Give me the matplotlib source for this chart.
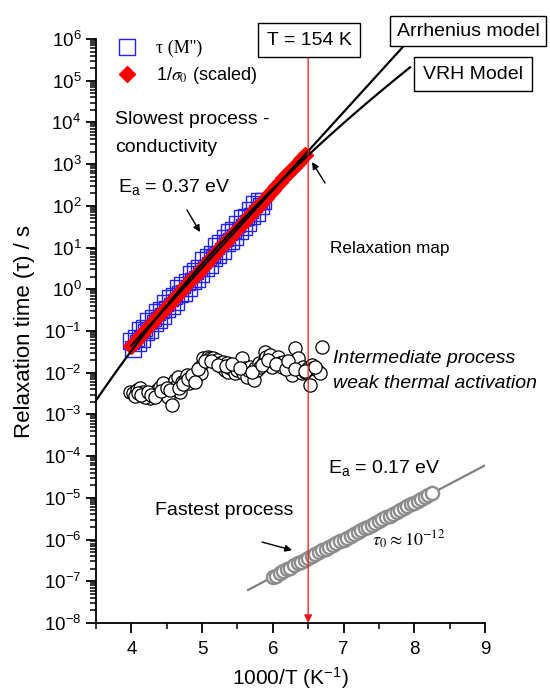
import numpy as np
import matplotlib
matplotlib.use("Agg")
import matplotlib.pyplot as plt
from matplotlib.ticker import FixedLocator, LogLocator, NullFormatter, LogFormatterMathtext

plt.rcParams['font.family'] = ['Liberation Sans', 'DejaVu Sans']
plt.rcParams['mathtext.fontset'] = 'custom'
plt.rcParams['mathtext.rm'] = 'Liberation Sans'
plt.rcParams['mathtext.it'] = 'Liberation Sans:italic'
plt.rcParams['mathtext.bf'] = 'Liberation Sans:bold'

# ---------------- data ----------------
# tau(M'') - slowest process (blue squares)
m_x = [4.00, 4.03, 4.06, 4.09, 4.12, 4.15, 4.18, 4.21, 4.24, 4.27, 4.30, 4.33,
       4.36, 4.39, 4.42, 4.45, 4.48, 4.51, 4.54, 4.57, 4.60, 4.63, 4.66, 4.69,
       4.72, 4.75, 4.78, 4.81, 4.84, 4.87, 4.90, 4.93, 4.96, 4.99, 5.02, 5.05,
       5.08, 5.11, 5.14, 5.17, 5.20, 5.23, 5.26, 5.29, 5.32, 5.35, 5.38, 5.41,
       5.44, 5.47, 5.50, 5.53, 5.56, 5.59, 5.62, 5.65, 5.68, 5.71, 5.74, 5.77,
       5.80, 5.83, 5.86]
m_tau = [0.0589, 0.0368, 0.0664, 0.0522, 0.103, 0.0646, 0.116, 0.0959, 0.173,
         0.103, 0.204, 0.153, 0.289, 0.181, 0.311, 0.223, 0.462, 0.332, 0.627,
         0.392, 0.706, 0.484, 1.05, 0.753, 1.30, 0.811, 1.53, 1.10, 2.28, 1.56,
         2.81, 1.76, 3.16, 2.38, 4.92, 3.22, 6.08, 3.80, 7.18, 5.65, 10.7, 6.67,
         12.6, 8.24, 17.1, 12.8, 23.1, 14.5, 26.1, 17.9, 37.0, 25.3, 50.0, 31.3,
         53.8, 38.6, 80.0, 57.4, 108, 67.8, 128, 101, 132]

# 1/sigma_0 (scaled) - red diamonds
s_x = [4.00, 4.05, 4.10, 4.15, 4.20, 4.25, 4.30, 4.35, 4.40, 4.45, 4.50, 4.55,
       4.60, 4.65, 4.70, 4.75, 4.80, 4.85, 4.90, 4.95, 5.00, 5.05, 5.10, 5.15,
       5.20, 5.25, 5.30, 5.35, 5.40, 5.45, 5.50, 5.55, 5.60, 5.65, 5.70, 5.75,
       5.80, 5.85, 5.90, 5.95, 6.00, 6.05, 6.10, 6.15, 6.20, 6.25, 6.30, 6.35,
       6.40, 6.45]
s_tau = [0.0447, 0.0554, 0.0686, 0.0851, 0.105, 0.131, 0.162, 0.201, 0.249,
         0.309, 0.382, 0.474, 0.588, 0.728, 0.902, 1.12, 1.39, 1.72, 2.13, 2.64,
         3.27, 4.06, 5.03, 6.24, 7.73, 9.58, 11.9, 14.7, 18.2, 22.6, 28.0, 34.7,
         43.1, 53.4, 66.2, 82.0, 102, 126, 156, 194, 240, 298, 369, 457, 567,
         702, 871, 1080, 1340, 1660]

# Intermediate process (open black circles)
i_x = [3.98, 4.03, 4.08, 4.12, 4.17, 4.22, 4.26, 4.19, 4.31, 4.36, 4.40, 4.45,
       4.48, 4.52, 4.57, 4.59, 4.62, 4.64, 4.66, 4.69, 4.71, 4.76, 4.78, 4.81,
       4.83, 4.88, 4.92, 4.95, 4.97, 4.99, 5.02, 5.07, 5.09, 5.11, 5.16, 5.18,
       5.21, 5.25, 5.28, 5.30, 5.32, 5.35, 5.37, 5.40, 5.44, 5.47, 5.49, 5.51,
       5.56, 5.58, 5.61, 5.63, 5.65, 5.68, 5.73, 5.75, 5.77, 5.80, 5.82, 5.87,
       5.89, 5.91, 5.96, 5.985, 6.01, 6.06, 6.08, 6.10, 6.13, 6.15, 6.20, 6.24,
       6.27, 6.29, 6.315, 6.34, 6.36, 6.39, 6.41, 6.43, 6.46, 6.50, 6.53, 6.55,
       6.57, 6.62, 6.67, 6.69,
       4.05, 4.10, 4.14, 4.24, 4.28, 4.34, 4.42, 4.50, 4.55, 4.68, 4.73, 4.80,
       4.86, 4.90, 4.94, 5.04, 5.13, 5.23, 5.34, 5.42, 5.53, 5.70, 5.85, 5.93,
       6.04, 6.18, 6.22, 6.32, 6.45, 6.60]
i_tau = [3.49e-3, 3.18e-3, 3.83e-3, 4.2e-3, 3.49e-3, 2.9e-3, 2.42e-3, 2.65e-3,
         3.18e-3, 3.83e-3, 4.6e-3, 5.53e-3, 3.18e-3, 2.65e-3, 1.67e-3, 4.2e-3,
         6.65e-3, 5.05e-3, 8.0e-3, 3.49e-3, 6.07e-3, 6.65e-3, 8.77e-3, 5.53e-3,
         7.3e-3, 6.65e-3, 8.0e-3, 1.05e-2, 1.39e-2, 9.6e-3, 2.2e-2, 2.01e-2,
         2.42e-2, 2.2e-2, 2.2e-2, 1.83e-2, 2.01e-2, 1.67e-2, 1.39e-2, 1.83e-2,
         1.16e-2, 1.67e-2, 1.05e-2, 1.27e-2, 1.39e-2, 9.6e-3, 1.16e-2, 1.52e-2,
         2.2e-2, 9.6e-3, 1.27e-2, 8.0e-3, 1.16e-2, 1.39e-2, 6.65e-3, 1.27e-2,
         1.16e-2, 1.67e-2, 1.39e-2, 1.83e-2, 3.18e-2, 2.42e-2, 2.65e-2, 1.39e-2,
         1.83e-2, 2.01e-2, 2.42e-2, 1.67e-2, 1.39e-2, 1.83e-2, 1.52e-2, 1.16e-2,
         8.77e-3, 1.39e-2, 3.82e-2, 1.83e-2, 2.2e-2, 1.16e-2, 9.6e-3, 1.39e-2,
         1.05e-2, 1.27e-2, 5.05e-3, 1.52e-2, 1.27e-2, 1.16e-2, 9.6e-3, 4.19e-2,
         2.8e-3, 3.3e-3, 3.0e-3, 3.4e-3, 2.9e-3, 2.6e-3, 3.6e-3, 4.4e-3, 3.8e-3,
         4.4e-3, 5.3e-3, 7.2e-3, 8.6e-3, 6.0e-3, 1.25e-2, 1.9e-2, 1.9e-2,
         1.55e-2, 1.45e-2, 1.6e-2, 1.3e-2, 1.05e-2, 1.5e-2, 2.0e-2, 1.6e-2,
         1.2e-2, 1.9e-2, 1.2e-2, 1.1e-2, 1.4e-2]

# Fastest process (grey open circles)
f_x = [6.00, 6.05, 6.10, 6.15, 6.20, 6.25, 6.30, 6.35, 6.40, 6.45, 6.50, 6.55,
       6.60, 6.65, 6.70, 6.75, 6.80, 6.85, 6.90, 6.95, 7.00, 7.05, 7.10, 7.15,
       7.20, 7.25, 7.30, 7.35, 7.40, 7.45, 7.50, 7.55, 7.60, 7.65, 7.70, 7.75,
       7.80, 7.85, 7.90, 7.95, 8.00, 8.05, 8.10, 8.15, 8.20, 8.25]
f_tau = [1.25e-7, 1.35e-7, 1.55e-7, 1.72e-7, 1.95e-7, 2.12e-7, 2.40e-7, 2.70e-7,
         2.95e-7, 3.30e-7, 3.62e-7, 4.05e-7, 4.50e-7, 5.05e-7, 5.50e-7, 6.10e-7,
         6.60e-7, 7.30e-7, 8.30e-7, 9.10e-7, 1.0e-6, 1.10e-6, 1.22e-6, 1.35e-6,
         1.50e-6, 1.66e-6, 1.85e-6, 2.05e-6, 2.25e-6, 2.50e-6, 2.78e-6, 3.05e-6,
         3.40e-6, 3.75e-6, 4.18e-6, 4.62e-6, 5.10e-6, 5.65e-6, 6.30e-6, 6.95e-6,
         7.70e-6, 8.55e-6, 9.50e-6, 1.05e-5, 1.16e-5, 1.28e-5]

# Fit lines
arr_x = [4.0, 7.84]          # Arrhenius fit (Ea = 0.37 eV)
arr_tau = [0.0447, 6.49e5]
vrh_A, vrh_B = -37.82, 25.7  # VRH model: log10(tau) = A + B*(1000/T)^(1/4)
vrh_range = [3.5, 7.94]
fast_x = [5.65, 9.0]         # Arrhenius fit fastest process (Ea = 0.17 eV)
fast_tau = [6.2e-8, 6.0e-5]

T_line_x = 6.5               # T = 154 K

xticks = [4, 5, 6, 7, 8, 9]

# ---------------- figure ----------------
fig = plt.figure(figsize=(5.5, 6.93), dpi=100)
ax = fig.add_axes([0.1745, 0.101, 0.7073, 0.8427])
ax.set_yscale('log')
ax.set_xlim(3.5, 9.0)
ax.set_ylim(1e-8, 1e6)

vx = np.linspace(vrh_range[0], vrh_range[1], 200)
ax.plot(vx, 10 ** (vrh_A + vrh_B * vx ** 0.25), color='black', lw=1.6, zorder=5)
ax.plot(arr_x, arr_tau, color='black', lw=1.6, zorder=5)
ax.plot(fast_x, fast_tau, color='#808080', lw=1.6, zorder=2)

ax.plot(m_x, m_tau, ls='none', marker='s', ms=11, mfc='none', mec='#1f1fff',
        mew=1.0, label="\u03c4 (M'')", zorder=3)
ax.plot(s_x, s_tau, ls='none', marker='D', ms=8.5, mfc='red', mec='red',
        label=r"1/$\sigma_0$ (scaled)", zorder=4)
ax.plot(i_x, i_tau, ls='none', marker='o', ms=9.5, mfc='white', mec='black',
        mew=0.9, zorder=3)
ax.plot(f_x, f_tau, ls='none', marker='o', ms=9.5, mfc='white', mec='#8c8c8c',
        mew=1.7, zorder=3)

# T = 154 K line with arrow
ax.annotate('', xy=(T_line_x, 1e-8), xytext=(T_line_x, 10 ** 5.57),
            arrowprops=dict(arrowstyle='-|>', color='#e8141c', lw=0.9,
                            mutation_scale=12, shrinkA=0, shrinkB=0), zorder=6)

# axes styling
for s in ['top', 'right']:
    ax.spines[s].set_visible(False)
for s in ['left', 'bottom']:
    ax.spines[s].set_linewidth(1.3)
ax.xaxis.set_major_locator(FixedLocator(xticks))
ax.xaxis.set_minor_locator(FixedLocator([3.5, 4.5, 5.5, 6.5, 7.5, 8.5]))
ax.yaxis.set_major_locator(LogLocator(base=10, numticks=20))
ax.yaxis.set_minor_locator(LogLocator(base=10, subs=np.arange(2, 10), numticks=20))
ax.yaxis.set_minor_formatter(NullFormatter())
ax.yaxis.set_major_formatter(LogFormatterMathtext())
ax.tick_params(which='major', direction='out', length=7, width=1.3, labelsize=13.5)
ax.tick_params(axis='x', which='major', pad=6)
ax.tick_params(which='minor', direction='out', length=4, width=1.1)
ax.set_xticklabels([str(t) for t in xticks])
ax.set_xlabel('1000/T (K$^{-1}$)', fontsize=15, labelpad=5)
ax.set_ylabel('Relaxation time (\u03c4) / s', fontsize=16, labelpad=6)

# legend
leg = ax.legend(loc='upper left', bbox_to_anchor=(0.02, 1.02), frameon=False,
                fontsize=13, handletextpad=1.0, labelspacing=0.45,
                borderaxespad=0.3, handlelength=1.2)
leg.get_texts()[0].set_fontfamily('Liberation Serif')
leg.get_texts()[1].set_math_fontfamily('stix')

# annotation texts
def lg(v):
    return 10 ** v

ax.text(3.77, lg(4.06), 'Slowest process -', fontsize=14, va='center')
ax.text(3.77, lg(3.41), 'conductivity', fontsize=14, va='center')
ax.text(3.81, lg(2.45), r'E$_\mathrm{a}$ = 0.37 eV', fontsize=14, va='center')
ax.text(6.81, lg(0.99), 'Relaxation map', fontsize=12.3, va='center')
ax.text(6.85, lg(-1.65), 'Intermediate process', fontsize=14, va='center', style='italic')
ax.text(6.85, lg(-2.25), 'weak thermal activation', fontsize=14, va='center', style='italic')
ax.text(6.78, lg(-4.29), r'E$_\mathrm{a}$ = 0.17 eV', fontsize=14, va='center')
ax.text(4.335, lg(-5.295), 'Fastest process', fontsize=14, va='center')
t0 = ax.text(7.40, lg(-6.01), r'$\tau_0 \approx 10^{-12}$', fontsize=13, va='center')
t0.set_math_fontfamily('stix')

arrow_kw = dict(arrowstyle='-|>', color='black', lw=1.0, mutation_scale=10,
                shrinkA=0, shrinkB=0)
ax.annotate('', xy=(4.971, lg(1.372)), xytext=(4.787, lg(1.90)), arrowprops=arrow_kw)
ax.annotate('', xy=(6.555, lg(3.05)), xytext=(6.739, lg(2.547)), arrowprops=arrow_kw)
ax.annotate('', xy=(6.272, lg(-6.254)), xytext=(5.848, lg(-6.06)), arrowprops=arrow_kw)

# boxed labels
fig.text(0.851, 0.955, 'Arrhenius model', fontsize=14, ha='center', va='center',
         bbox=dict(boxstyle='square,pad=0.35', fc='white', ec='black', lw=1.0))
fig.text(0.86, 0.893, 'VRH Model', fontsize=14, ha='center', va='center',
         bbox=dict(boxstyle='square,pad=0.45', fc='white', ec='black', lw=1.0))
fig.text(0.562, 0.942, 'T = 154 K', fontsize=14, ha='center', va='center',
         bbox=dict(boxstyle='square,pad=0.45', fc='white', ec='black', lw=1.0))

fig.savefig('out.png', dpi=100)
